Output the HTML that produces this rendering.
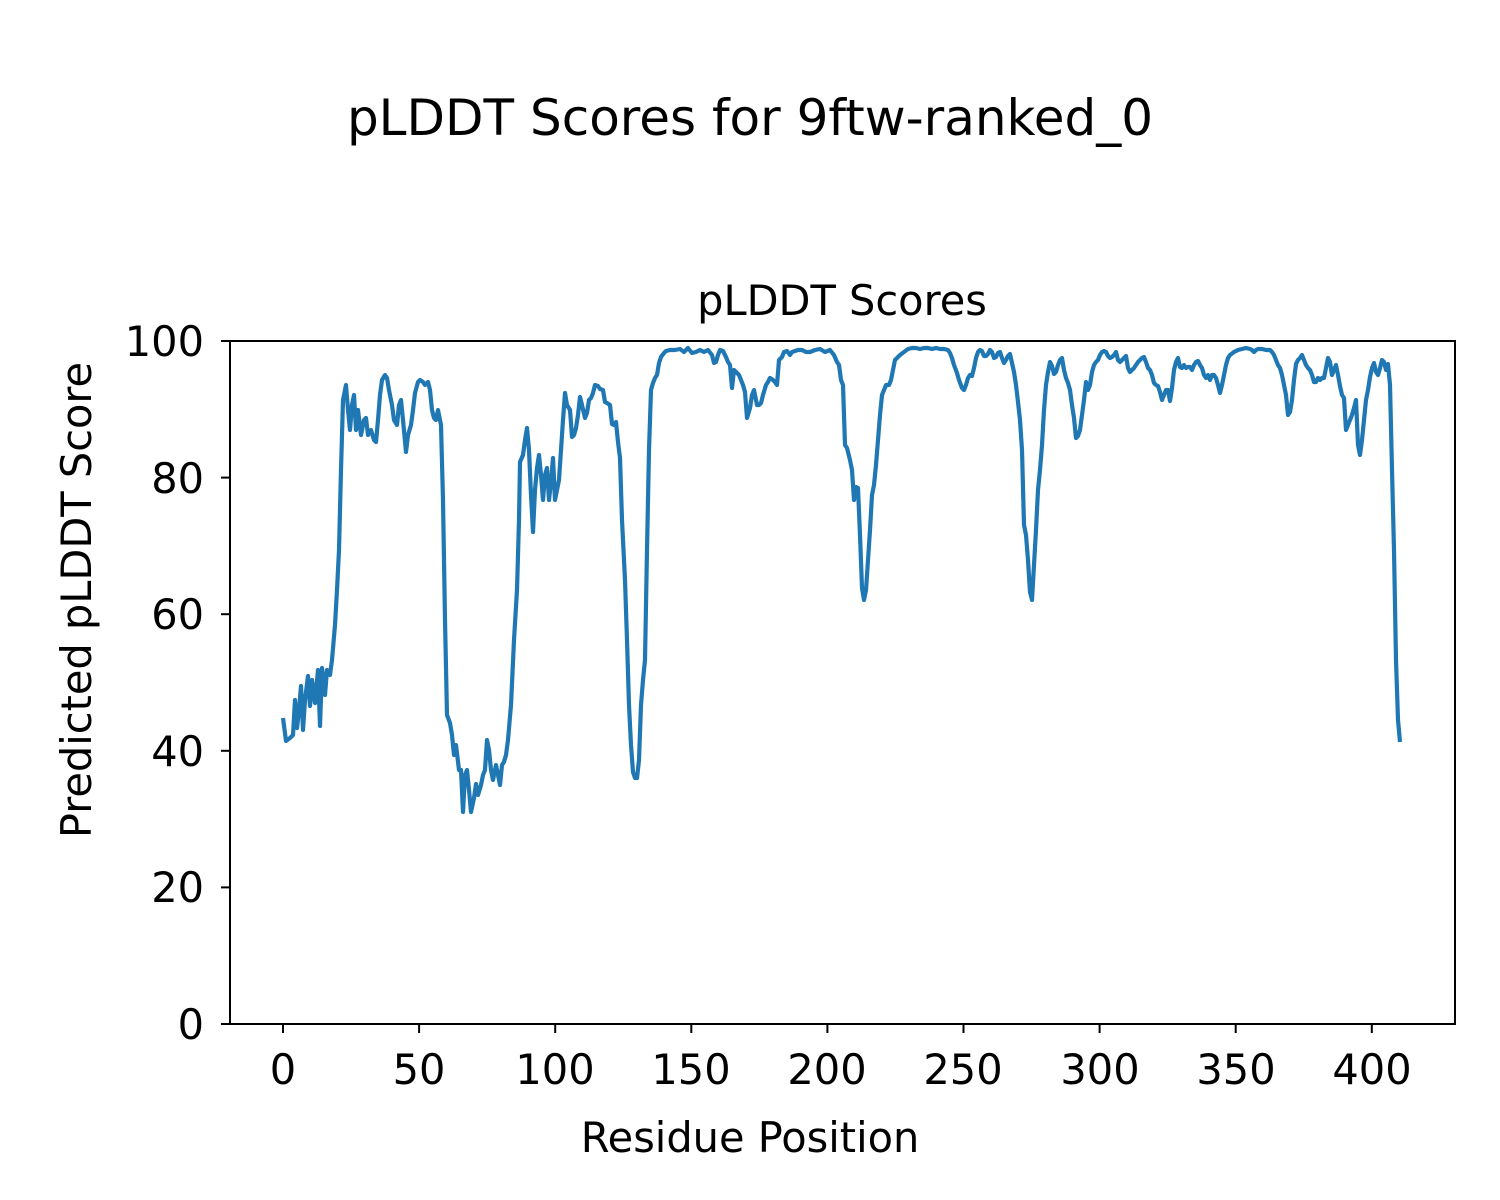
<!DOCTYPE html>
<html><head><meta charset="utf-8"><style>
html,body{margin:0;padding:0;background:#fff;}
svg{display:block;font-family:"DejaVu Sans","Liberation Sans",sans-serif;}
</style></head><body>
<svg width="1500" height="1200" viewBox="0 0 1500 1200" xmlns="http://www.w3.org/2000/svg">
<rect width="1500" height="1200" fill="#fff"/>
<text x="750" y="135" font-size="50" text-anchor="middle">pLDDT Scores for 9ftw-ranked_0</text>
<text x="842" y="315" font-size="41.5" text-anchor="middle">pLDDT Scores</text>
<polyline fill="none" stroke="#1f77b4" stroke-width="4.2" stroke-linejoin="round" points="283,718 286,741 290,738 293,735 295,700 297,728 299,710 301,686 303,730 305,700 308,676 310,706 312,680 315,703 318,670 320,726 322,668 325,695 327,670 330,675 332,660 335,625 337,590 339,550 341,470 343,400 346,385 348,410 350,430 352,405 354,395 356,430 358,410 361,435 364,420 366,418 368,435 371,430 374,440 376,442 378,420 380,395 382,380 385,375 387,378 389,390 392,405 394,420 397,425 399,405 401,400 403,420 406,452 408,435 411,425 413,410 415,393 418,382 420,380 423,382 425,385 428,382 430,390 432,410 434,418 436,420 438,410 441,425 443,500 445,620 447,715 450,723 452,735 454,755 456,745 459,770 461,770 463,812 465,775 467,770 469,790 471,812 474,798 476,784 478,795 481,785 483,775 485,770 487,740 489,750 491,770 493,780 496,765 498,775 500,785 502,765 504,762 506,755 508,740 511,705 514,640 517,590 519,520 520,462 523,455 525,440 527,428 529,450 531,495 533,532 535,490 537,468 539,455 541,475 543,500 545,475 547,468 549,500 551,482 553,458 555,500 557,490 559,480 561,450 563,420 565,393 567,405 570,410 572,437 574,435 576,428 578,415 580,397 582,405 585,418 587,413 589,400 591,398 593,393 595,385 598,386 600,389 603,390 605,402 607,403 610,405 612,424 614,425 616,422 618,442 620,458 622,520 625,580 627,640 629,705 631,745 633,772 635,778 637,778 639,760 641,705 643,680 645,660 647,550 649,450 651,390 653,383 655,378 657,375 659,363 661,357 664,353 666,351 670,350 675,350 680,349 684,352 688,348 692,353 696,352 700,350 704,352 708,350 712,355 714,363 716,362 718,355 720,350 723,351 726,357 728,362 730,365 732,388 734,370 736,372 739,375 741,380 743,385 745,392 747,418 750,408 752,395 754,390 757,405 759,405 761,403 763,395 766,385 768,382 770,378 773,380 775,382 777,385 779,360 782,357 784,352 787,351 790,355 792,352 795,351 798,350 802,350 806,352 810,352 815,350 820,349 825,352 830,350 834,355 837,362 839,365 841,380 843,385 845,445 847,448 850,460 852,470 854,500 856,487 858,488 860,535 862,588 864,600 866,590 868,560 870,530 872,495 874,485 876,465 878,440 880,415 882,395 884,390 886,385 889,385 891,380 893,370 895,360 898,357 900,355 904,352 908,349 912,348 916,348 920,349 924,348 928,348 932,349 936,348 940,349 944,349 948,350 950,353 952,358 954,365 957,373 959,380 962,388 964,390 966,385 968,378 970,375 972,376 974,368 976,358 978,352 980,350 982,351 984,356 986,356 988,354 990,350 992,352 994,358 996,357 998,353 1000,352 1002,358 1004,363 1006,360 1008,356 1010,354 1012,363 1014,372 1016,385 1018,402 1020,420 1022,450 1024,525 1026,535 1028,560 1030,592 1032,600 1034,565 1036,530 1038,490 1040,470 1042,445 1044,410 1046,385 1048,372 1050,362 1052,366 1054,374 1056,372 1058,365 1060,360 1062,358 1064,370 1066,378 1068,383 1070,390 1072,405 1074,418 1076,438 1078,436 1080,430 1082,415 1084,400 1086,382 1088,390 1090,385 1092,372 1094,365 1096,362 1098,360 1100,355 1102,352 1104,351 1106,352 1108,356 1110,358 1112,357 1114,355 1116,352 1118,360 1120,362 1122,360 1124,358 1126,356 1128,368 1130,372 1132,370 1134,368 1136,365 1138,362 1140,360 1142,358 1144,357 1146,362 1148,368 1150,370 1152,375 1154,383 1156,385 1158,386 1160,392 1162,400 1164,395 1166,390 1168,390 1170,401 1172,388 1174,370 1176,362 1178,358 1180,367 1182,368 1184,365 1186,368 1188,367 1190,367 1192,370 1194,365 1196,362 1198,361 1200,365 1202,368 1204,375 1206,378 1208,375 1210,380 1212,375 1214,375 1216,378 1218,385 1220,393 1222,385 1224,375 1226,365 1228,358 1230,355 1234,352 1238,350 1242,349 1246,348 1250,349 1252,350 1254,352 1256,350 1258,349 1262,349 1266,350 1270,350 1272,352 1274,355 1276,360 1278,365 1280,368 1282,375 1284,385 1286,395 1288,415 1290,412 1292,400 1294,380 1296,364 1298,360 1300,358 1302,355 1304,360 1306,365 1308,368 1310,370 1312,375 1314,382 1316,382 1318,378 1320,380 1322,378 1324,378 1326,368 1328,358 1330,362 1332,375 1334,370 1336,365 1338,375 1340,386 1342,395 1344,398 1346,430 1348,425 1350,420 1352,415 1354,408 1356,400 1358,445 1360,455 1362,440 1364,420 1366,400 1368,390 1370,377 1372,368 1374,363 1376,372 1378,375 1380,368 1382,360 1384,362 1386,370 1388,364 1390,385 1392,470 1394,550 1396,660 1398,720 1400,742"/>
<rect x="230" y="341" width="1225" height="683" fill="none" stroke="#000" stroke-width="2"/>
<g stroke="#000" stroke-width="2">
<line x1="221" y1="1024" x2="230" y2="1024"/><line x1="221" y1="887.4" x2="230" y2="887.4"/><line x1="221" y1="750.8" x2="230" y2="750.8"/><line x1="221" y1="614.2" x2="230" y2="614.2"/><line x1="221" y1="477.6" x2="230" y2="477.6"/><line x1="221" y1="341" x2="230" y2="341"/>
<line x1="283" y1="1024" x2="283" y2="1033"/><line x1="419.1" y1="1024" x2="419.1" y2="1033"/><line x1="555.2" y1="1024" x2="555.2" y2="1033"/><line x1="691.3" y1="1024" x2="691.3" y2="1033"/><line x1="827.4" y1="1024" x2="827.4" y2="1033"/><line x1="963.5" y1="1024" x2="963.5" y2="1033"/><line x1="1099.6" y1="1024" x2="1099.6" y2="1033"/><line x1="1235.7" y1="1024" x2="1235.7" y2="1033"/><line x1="1371.8" y1="1024" x2="1371.8" y2="1033"/>
</g>
<g font-size="41.5" text-anchor="end">
<text x="204" y="1039">0</text><text x="204" y="902">20</text><text x="204" y="766">40</text><text x="204" y="629">60</text><text x="204" y="493">80</text><text x="204" y="356">100</text>
</g>
<g font-size="41.5" text-anchor="middle">
<text x="283" y="1084">0</text><text x="419" y="1084">50</text><text x="555" y="1084">100</text><text x="691" y="1084">150</text><text x="827" y="1084">200</text><text x="963" y="1084">250</text><text x="1100" y="1084">300</text><text x="1236" y="1084">350</text><text x="1372" y="1084">400</text>
</g>
<text x="750" y="1152" font-size="41.5" text-anchor="middle">Residue Position</text>
<text transform="translate(91,600) rotate(-90)" font-size="41.5" text-anchor="middle">Predicted pLDDT Score</text>
</svg>
</body></html>
